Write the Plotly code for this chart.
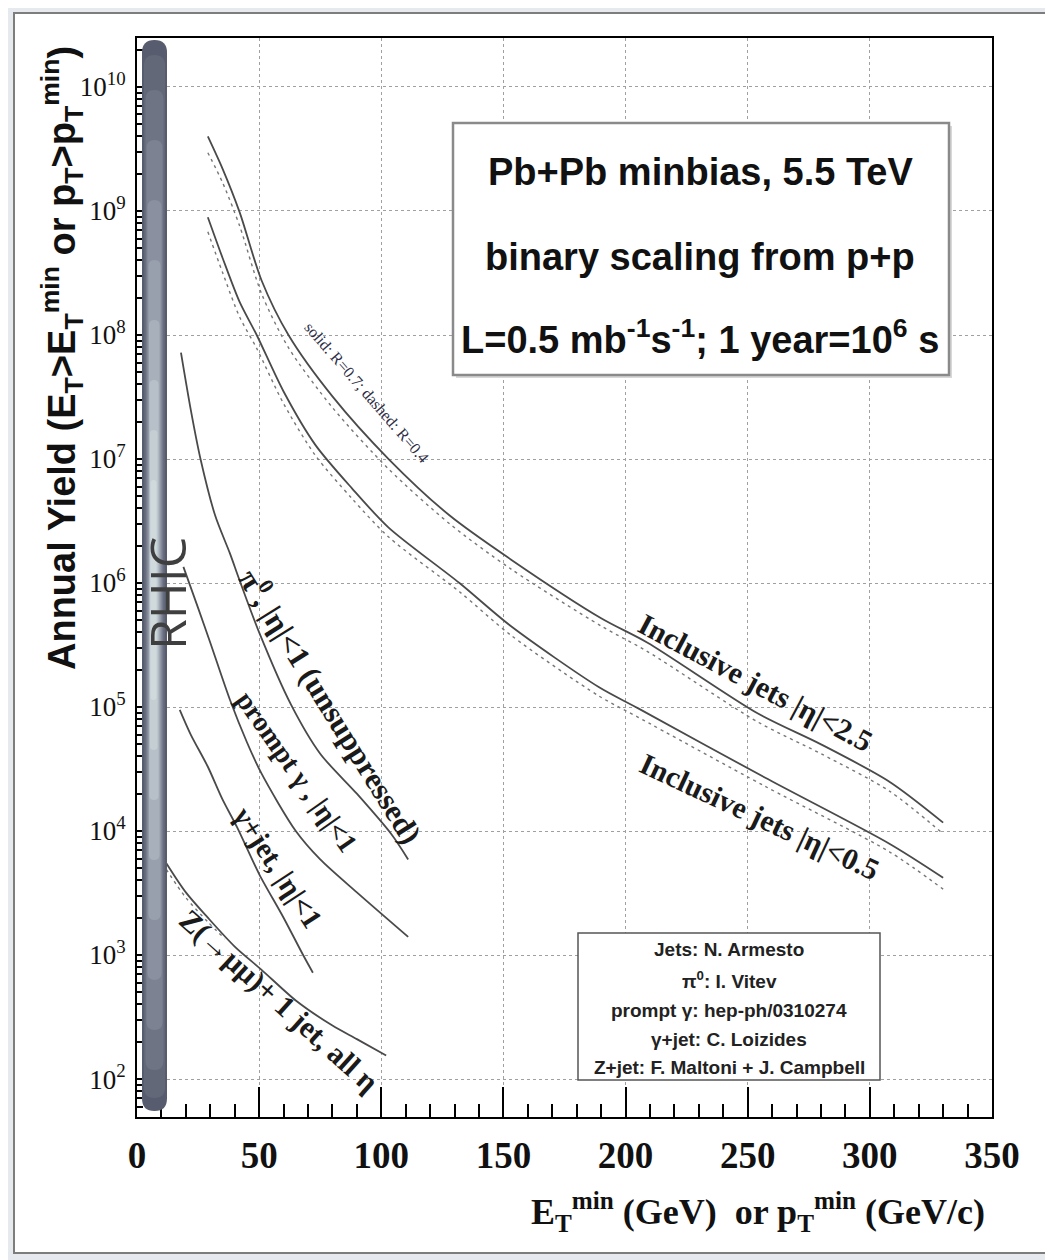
import plotly.graph_objects as go

# ---------------- data ----------------
jets25_x = [29, 35, 42, 51, 62, 80, 103, 128, 153, 190, 209, 254, 280, 308, 330]
jets25_r07 = [4.0e9, 2.2e9, 9.8e8, 2.75e8, 1.0e8, 3.2e7, 1.0e7, 3.5e6, 1.55e6, 5.2e5, 3.3e5, 8.9e4, 5.0e4, 2.5e4, 1.17e4]
jets25_r04 = [2.95e9, 1.7e9, 7.6e8, 2.15e8, 7.9e7, 2.6e7, 8.3e6, 3.0e6, 1.3e6, 4.5e5, 2.8e5, 7.6e4, 4.2e4, 2.1e4, 9.5e3]

jets05_x = [29, 35, 42, 49, 60, 73, 88, 103, 132, 153, 189, 205, 257, 308, 330]
jets05_r07 = [8.9e8, 4.2e8, 1.85e8, 1.0e8, 3.5e7, 1.3e7, 5.8e6, 2.8e6, 1.0e6, 4.5e5, 1.45e5, 9.8e4, 2.7e4, 7.9e3, 4.2e3]
jets05_r04 = [6.8e8, 3.2e8, 1.4e8, 7.8e7, 2.8e7, 1.07e7, 4.8e6, 2.35e6, 8.5e5, 3.8e5, 1.23e5, 8.3e4, 2.3e4, 6.8e3, 3.4e3]

pi0_x = [18, 22, 26, 32, 38, 42, 50, 63, 75, 90, 104, 111]
pi0_y = [7.2e7, 2.5e7, 1.0e7, 3.5e6, 1.74e6, 1.05e6, 4.0e5, 1.05e5, 4.2e4, 2.0e4, 9.5e3, 5.9e3]

gamma_x = [19, 25, 30, 38, 45, 51, 65, 75, 90, 111]
gamma_y = [1.35e6, 6.3e5, 3.3e5, 1.15e5, 5.2e4, 2.9e4, 1.0e4, 5.9e3, 3.2e3, 1.4e3]

gjet_x = [17.5, 22, 29, 35, 41, 50, 60, 68, 72]
gjet_y = [9.5e4, 6.0e4, 3.3e4, 1.8e4, 1.07e4, 4.5e3, 2.0e3, 1.0e3, 7.2e2]

zjet_x = [12, 20, 29, 40, 51, 65, 80, 90, 102]
zjet_y = [5.5e3, 3.2e3, 2.0e3, 1.17e3, 7.6e2, 4.3e2, 2.7e2, 2.1e2, 1.55e2]
zjet_dash_x = [12, 20, 29, 36]
zjet_dash_y = [4.9e3, 2.9e3, 1.85e3, 1.35e3]

x_ticks = [0, 50, 100, 150, 200, 250, 300, 350]
y_ticks = [1e2, 1e3, 1e4, 1e5, 1e6, 1e7, 1e8, 1e9, 1e10]
y_ticklabels = ["10<sup>2</sup>", "10<sup>3</sup>", "10<sup>4</sup>", "10<sup>5</sup>",
                "10<sup>6</sup>", "10<sup>7</sup>", "10<sup>8</sup>", "10<sup>9</sup>",
                "10<sup>10</sup>"]

info_lines = ["Pb+Pb minbias, 5.5 TeV",
              "binary scaling from p+p",
              "L=0.5 mb<sup>-1</sup>s<sup>-1</sup>; 1 year=10<sup>6</sup> s"]
credit_lines = ["Jets: N. Armesto",
                "π<sup>0</sup>: I. Vitev",
                "prompt γ: hep-ph/0310274",
                "γ+jet: C. Loizides",
                "Z+jet: F. Maltoni + J. Campbell"]

# ---------------- layout geometry (reference pixel coords) ----------------
OFF = 8                      # default page margin of the html body
W, H = 1053 - OFF, 1260 - OFF
L, R, T, B = 137, 992, 38, 1117


def px(x):
    return (x - L) / (R - L)


def py(y):
    return (B - y) / (B - T)


SOLID = "#4a4a4a"
DASH = "#777777"

fig = go.Figure()


def solid(x, y):
    fig.add_trace(go.Scatter(x=x, y=y, mode="lines", showlegend=False, hoverinfo="skip",
                             line=dict(color=SOLID, width=1.8, shape="spline", smoothing=0.8)))


def dashed(x, y):
    fig.add_trace(go.Scatter(x=x, y=y, mode="lines", showlegend=False, hoverinfo="skip",
                             line=dict(color=DASH, width=1.4, dash="3px,4px", shape="spline",
                                       smoothing=0.8)))


dashed(jets25_x, jets25_r04)
solid(jets25_x, jets25_r07)
dashed(jets05_x, jets05_r04)
solid(jets05_x, jets05_r07)
solid(pi0_x, pi0_y)
solid(gamma_x, gamma_y)
solid(gjet_x, gjet_y)
dashed(zjet_dash_x, zjet_dash_y)
solid(zjet_x, zjet_y)

shapes = []
# page card
shapes.append(dict(type="rect", xref="paper", yref="paper", layer="below",
                   x0=px(14), x1=px(1046), y0=py(1253), y1=py(13),
                   fillcolor="white", line=dict(color="#7d7d7d", width=2)))


def rounded_bar(x0, x1, y0, y1, color):
    r = (x1 - x0) / 2.0
    pts = [
        f"M {px(x0)},{py(y0 + r)}",
        f"Q {px(x0)},{py(y0)} {px((x0 + x1) / 2)},{py(y0)}",
        f"Q {px(x1)},{py(y0)} {px(x1)},{py(y0 + r)}",
        f"L {px(x1)},{py(y1 - r)}",
        f"Q {px(x1)},{py(y1)} {px((x0 + x1) / 2)},{py(y1)}",
        f"Q {px(x0)},{py(y1)} {px(x0)},{py(y1 - r)}",
        "Z",
    ]
    return dict(type="path", xref="paper", yref="paper", layer="above",
                path=" ".join(pts), fillcolor=color, line=dict(width=0))


# RHIC bar (layered to imitate a gradient)
bar_layers = [
    (142, 167, 40, 1111, "#585c6f"),
    (144, 165, 55, 1098, "#636879"),
    (145.5, 163.5, 90, 1070, "#6f7485"),
    (146.5, 162.5, 140, 1030, "#7c8292"),
    (147.5, 161.5, 200, 980, "#8a909f"),
    (148.5, 160.5, 260, 920, "#99a0ad"),
    (149, 159.5, 320, 860, "#a8b0bb"),
    (149.5, 158.5, 380, 800, "#b7c0c8"),
    (150, 157.5, 430, 750, "#c4ced3"),
    (150.5, 156.5, 480, 700, "#d0dadd"),
]
for x0, x1, y0, y1, c in bar_layers:
    shapes.append(rounded_bar(x0, x1, y0, y1, c))

# info box (top)
shapes.append(dict(type="rect", xref="paper", yref="paper", layer="above",
                   x0=px(456), x1=px(952), y0=py(378), y1=py(126),
                   fillcolor="#d8d8d8", line=dict(width=0)))
shapes.append(dict(type="rect", xref="paper", yref="paper", layer="above",
                   x0=px(453), x1=px(949), y0=py(375), y1=py(123),
                   fillcolor="white", line=dict(color="#8a8a8a", width=2.5)))
# credits box
shapes.append(dict(type="rect", xref="paper", yref="paper", layer="above",
                   x0=px(578), x1=px(880), y0=py(1080), y1=py(933),
                   fillcolor="white", line=dict(color="#555555", width=1.5)))

annotations = []
SERIF = "Liberation Serif"


def ann(text, x, y, size, family=SERIF, angle=0, color="#1a1a1a", weight="bold",
        xanchor="center", yanchor="middle"):
    annotations.append(dict(text=text, x=px(x), y=py(y), xref="paper", yref="paper",
                            showarrow=False, textangle=angle, xanchor=xanchor, yanchor=yanchor,
                            font=dict(family=family, size=size, color=color, weight=weight)))


# curve labels
ann("solid: R=0.7; dashed: R=0.4", 367, 392, 16, angle=49, color="#2e2e45", weight="normal")
ann("Inclusive jets |η|&lt;2.5", 756, 682, 30, angle=28)
ann("Inclusive jets |η|&lt;0.5", 760, 816, 30, angle=25)
ann("π<sup>0</sup>, |η|&lt;1 (unsuppressed)", 332, 705, 31, angle=58)
ann("prompt γ , |η|&lt;1", 297, 771, 28, angle=55)
ann("γ+jet, |η|&lt;1", 278, 867, 29, angle=57)
ann("Z(→μμ)+ 1 jet, all η", 279, 1001, 30, angle=42)

# info box text
for txt, yy in zip(info_lines, [172, 257, 337]):
    ann(txt, 700, yy, 38, family="Liberation Sans", color="#111111")
# credits text
for txt, yy in zip(credit_lines, [950, 980, 1010, 1039, 1067]):
    ann(txt, 729, yy, 19, family="Liberation Sans", color="#222222")

# RHIC
ann("RHIC", 167, 594, 50, family="Open Sans", angle=-90, color="#3f3f3f", weight="normal")

# axis titles
ann("Annual Yield (E<sub>T</sub>&gt;E<sub>T</sub><sup>min</sup> or p<sub>T</sub>&gt;p<sub>T</sub><sup>min</sup>)",
    62, 358, 38, family="Liberation Sans", angle=-90, color="#111111")
ann("E<sub>T</sub><sup>min</sup> (GeV)  or p<sub>T</sub><sup>min</sup> (GeV/c)",
    987, 1212, 36, family=SERIF, color="#111111", xanchor="right")

fig.update_layout(
    width=W, height=H,
    margin=dict(l=L - OFF, r=W - (R - OFF), t=T - OFF, b=H - (B - OFF), pad=0),
    paper_bgcolor="#e6e9ee",
    plot_bgcolor="white",
    shapes=shapes,
    annotations=annotations,
    showlegend=False,
)

fig.update_xaxes(
    range=[0, 350], tickvals=x_ticks, ticks="inside", ticklen=30, tickwidth=1.5,
    tickcolor="black", showline=True, linecolor="black", linewidth=2, mirror=True,
    showgrid=True, gridcolor="#a0a0a0", griddash="dot", gridwidth=1.3,
    tickfont=dict(family=SERIF, size=37, color="#111111", weight="bold"),
    ticklabelstandoff=5, zeroline=False,
    minor=dict(dtick=10, ticks="inside", ticklen=13, tickcolor="black", tickwidth=1.5,
               showgrid=False),
)
fig.update_yaxes(
    type="log", range=[1.694, 10.395], tickvals=y_ticks, ticktext=y_ticklabels,
    ticks="inside", ticklen=12, tickwidth=1.5, tickcolor="black",
    showline=True, linecolor="black", linewidth=2, mirror=True,
    showgrid=True, gridcolor="#a0a0a0", griddash="dot", gridwidth=1.3,
    tickfont=dict(family=SERIF, size=27, color="#111111"),
    ticklabelstandoff=4, zeroline=False,
    minor=dict(ticks="inside", ticklen=6, tickcolor="black", dtick="D1", showgrid=False),
)

fig.write_html("out.html")
